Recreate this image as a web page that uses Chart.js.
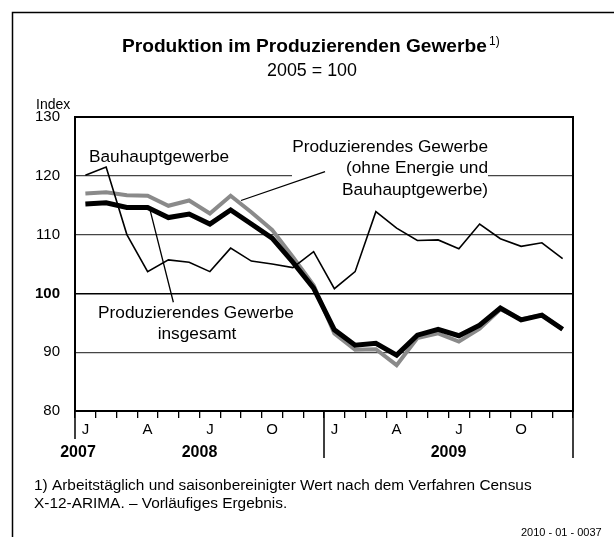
<!DOCTYPE html>
<html><head><meta charset="utf-8">
<script src="https://cdn.jsdelivr.net/npm/chart.js@4/dist/chart.umd.min.js"></script>
<style>html,body{margin:0;padding:0;background:#fff;}#wrap{width:614px;height:537px;position:relative;}</style>
</head><body><div id="wrap"><canvas id="c" width="614" height="537"></canvas></div>
<script>
const categories = ['2008-01','2008-02','2008-03','2008-04','2008-05','2008-06','2008-07','2008-08','2008-09','2008-10','2008-11','2008-12',
                    '2009-01','2009-02','2009-03','2009-04','2009-05','2009-06','2009-07','2009-08','2009-09','2009-10','2009-11','2009-12'];
const tickLabels = ['J','','','A','','','J','','','O','','','J','','','A','','','J','','','O','',''];
const yearLabels = ['2007','2008','2009'];
const bauhaupt = [120.1,121.5,110.0,103.7,105.7,105.3,103.7,107.7,105.5,105.0,104.4,107.1,100.8,103.7,113.9,111.1,109.0,109.1,107.6,111.8,109.3,108.0,108.6,105.9];
const ohneEnergieBau = [117.0,117.2,116.7,116.6,114.9,115.8,113.6,116.6,113.8,110.8,106.2,101.4,93.2,90.4,90.5,87.8,92.4,93.2,91.8,94.0,97.3,95.6,96.3,93.9];
const insgesamt = [115.2,115.4,114.6,114.6,112.9,113.5,111.8,114.2,111.8,109.4,105.3,100.9,93.8,91.2,91.5,89.5,92.9,93.9,92.8,94.6,97.5,95.5,96.3,93.9];

const FONT = "'Liberation Sans', Arial, sans-serif";
function fit(ctx, text, width, weight) {
  ctx.font = (weight || 'normal') + ' 100px ' + FONT;
  return 100 * width / ctx.measureText(text).width;
}
function setFont(ctx, size, weight) { ctx.font = (weight || 'normal') + ' ' + size.toFixed(2) + 'px ' + FONT; }

const gapPlugin = {
  id: 'gap',
  beforeDatasetsDraw(chart) {
    const ctx = chart.ctx, y = chart.scales.y.getPixelForValue(120);
    ctx.save(); ctx.fillStyle = '#fff'; ctx.fillRect(292, y - 3, 196, 6); ctx.restore();
  }
};

const decoPlugin = {
  id: 'deco',
  afterDraw(chart) {
    const ctx = chart.ctx, ca = chart.chartArea, xs = chart.scales.x, ys = chart.scales.y;
    ctx.save();
    ctx.fillStyle = '#000'; ctx.strokeStyle = '#000';
    // outer frame
    ctx.lineWidth = 1.5;
    ctx.beginPath(); ctx.moveTo(12.5, 537); ctx.lineTo(12.5, 12.5); ctx.lineTo(614, 12.5); ctx.stroke();
    // plot box
    ctx.lineWidth = 2;
    ctx.strokeRect(ca.left, ca.top, ca.right - ca.left, ca.bottom - ca.top);
    // year separators
    const step = xs.getPixelForValue(1) - xs.getPixelForValue(0);
    const mid = xs.getPixelForValue(11) + step / 2;
    ctx.lineWidth = 1.5;
    ctx.beginPath();
    ctx.moveTo(ca.left, ca.bottom); ctx.lineTo(ca.left, ca.bottom + 28);
    ctx.moveTo(mid, ca.bottom); ctx.lineTo(mid, ca.bottom + 47);
    ctx.moveTo(ca.right, ca.bottom); ctx.lineTo(ca.right, ca.bottom + 47);
    ctx.stroke();
    // year labels
    setFont(ctx, 16, 'bold'); ctx.textAlign = 'center'; ctx.textBaseline = 'alphabetic';
    ctx.fillText(yearLabels[0], ca.left + 3, 457);
    ctx.fillText(yearLabels[1], (ca.left + mid) / 2, 457);
    ctx.fillText(yearLabels[2], (mid + ca.right) / 2, 457);
    // title
    ctx.textAlign = 'left';
    const tTitle = 'Produktion im Produzierenden Gewerbe';
    setFont(ctx, fit(ctx, tTitle, 365, 'bold'), 'bold');
    ctx.fillText(tTitle, 122, 52);
    setFont(ctx, 12); ctx.fillText('1)', 489, 45);
    ctx.textAlign = 'center';
    const tSub = '2005 = 100';
    setFont(ctx, fit(ctx, tSub, 90)); ctx.fillText(tSub, 312, 76);
    ctx.textAlign = 'left';
    setFont(ctx, 14); ctx.fillText('Index', 36, 109);
    // annotations
    const aSize = fit(ctx, 'Produzierendes Gewerbe', 196);
    setFont(ctx, aSize);
    ctx.textAlign = 'right';
    ctx.fillText('Produzierendes Gewerbe', 488, 151.5);
    ctx.fillText('(ohne Energie und', 488, 172.5);
    ctx.fillText('Bauhauptgewerbe)', 488, 194.5);
    ctx.textAlign = 'left';
    ctx.fillText('Bauhauptgewerbe', 89, 161.5);
    ctx.textAlign = 'center';
    ctx.fillText('Produzierendes Gewerbe', 196, 318.3);
    ctx.fillText('insgesamt', 197, 339);
    // leader lines
    ctx.lineWidth = 1.3;
    ctx.beginPath();
    ctx.moveTo(xs.getPixelForValue(7.5), ys.getPixelForValue(115.8));
    ctx.lineTo(xs.getPixelForValue(11.55), ys.getPixelForValue(120.7));
    ctx.moveTo(xs.getPixelForValue(3.11), ys.getPixelForValue(114.3));
    ctx.lineTo(xs.getPixelForValue(4.24), ys.getPixelForValue(98.5));
    ctx.stroke();
    // footnote
    ctx.textAlign = 'left';
    const f1 = '1) Arbeitstäglich und saisonbereinigter Wert nach dem Verfahren Census';
    const fSize = fit(ctx, f1, 498);
    setFont(ctx, fSize);
    ctx.fillText(f1, 34, 490);
    ctx.fillText('X-12-ARIMA. – Vorläufiges Ergebnis.', 34, 508);
    setFont(ctx, 11);
    ctx.fillText('2010 - 01 - 0037', 521, 536);
    ctx.restore();
  }
};

new Chart(document.getElementById('c'), {
  type: 'line',
  data: {
    labels: categories,
    datasets: [
      { label: 'Bauhauptgewerbe', data: bauhaupt, borderColor: '#000', borderWidth: 1.6, order: 1 },
      { label: 'Produzierendes Gewerbe insgesamt', data: insgesamt, borderColor: '#000', borderWidth: 5, order: 2 },
      { label: 'Produzierendes Gewerbe (ohne Energie und Bauhauptgewerbe)', data: ohneEnergieBau, borderColor: '#8a8a8a', borderWidth: 4, order: 3 }
    ]
  },
  options: {
    responsive: false, animation: false, devicePixelRatio: 1,
    layout: { padding: { left: 20, right: 41, top: 117, bottom: 96 } },
    elements: { point: { radius: 0 }, line: { tension: 0, borderJoinStyle: 'miter', borderCapStyle: 'butt', fill: false } },
    plugins: { legend: { display: false }, tooltip: { enabled: false }, title: { display: false } },
    scales: {
      x: {
        type: 'category', offset: true,
        grid: { offset: true, drawOnChartArea: false, drawTicks: true, tickLength: 7, color: '#000', lineWidth: 1.3 },
        border: { display: false },
        ticks: { autoSkip: false, maxRotation: 0, minRotation: 0, padding: 3, color: '#000',
                 font: { family: FONT, size: 15 }, callback: (v, i) => tickLabels[i] },
        afterFit: s => { s.height = 30; }
      },
      y: {
        min: 80, max: 130,
        ticks: { stepSize: 10, padding: 15, color: '#000',
                 font: c => ({ family: FONT, size: 15, weight: (c.tick && c.tick.value === 100) ? 'bold' : 'normal' }) },
        grid: { drawTicks: false,
                color: c => (c.tick.value === 80 || c.tick.value === 130) ? 'rgba(0,0,0,0)' : (c.tick.value === 100 ? '#000' : '#454545'),
                lineWidth: c => c.tick.value === 100 ? 1.6 : 1.3 },
        border: { display: false },
        afterFit: s => { s.width = 55; }
      }
    }
  },
  plugins: [gapPlugin, decoPlugin]
});
</script></body></html>
